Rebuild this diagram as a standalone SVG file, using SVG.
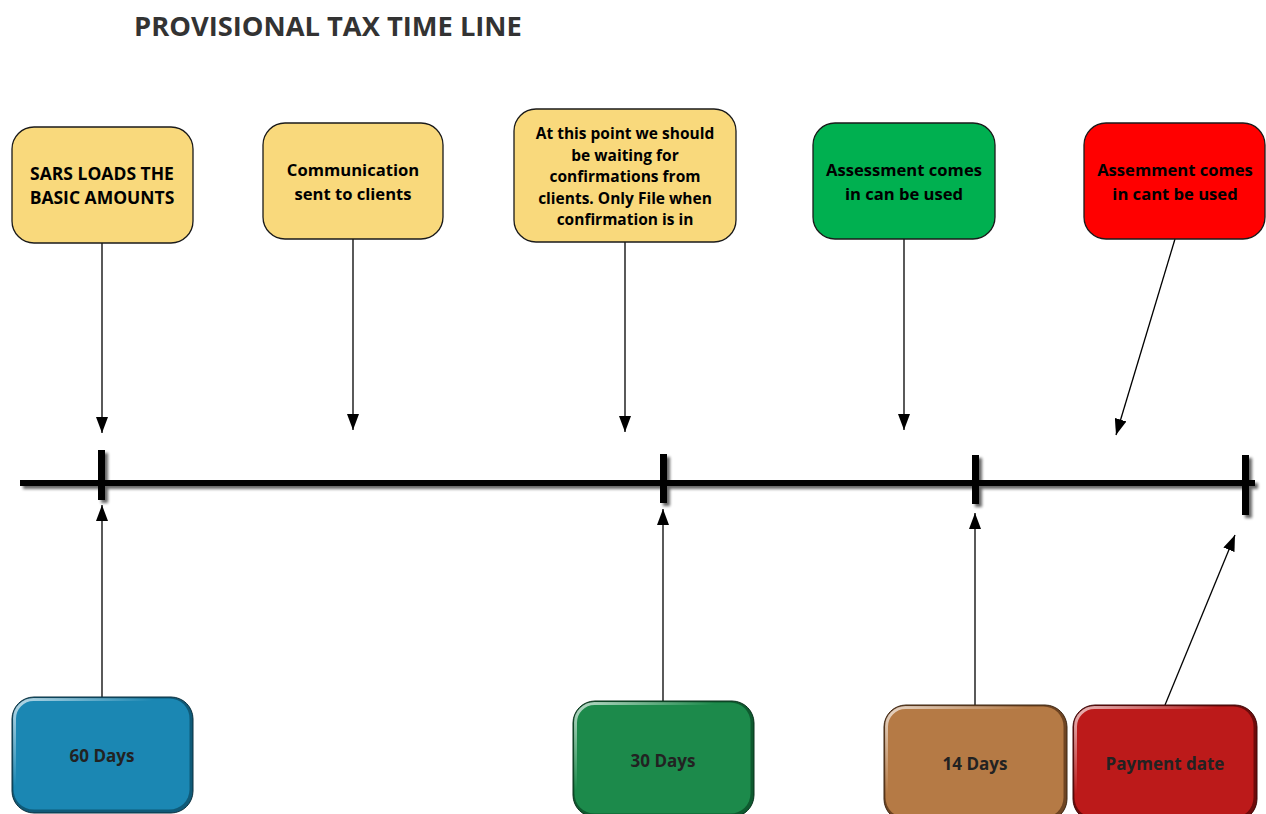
<svg xmlns="http://www.w3.org/2000/svg" width="1266" height="814" viewBox="0 0 1266 814">
<defs>
<style>
.t{font-family:"Open Sans","Liberation Sans",sans-serif;font-weight:bold;text-anchor:middle;fill:#000}
.title{font-family:"Open Sans","Liberation Sans",sans-serif;font-weight:bold;font-size:27.3px;fill:#333}
.box{stroke:#1a1a1a;stroke-width:1.3}
.conn{stroke:#000;stroke-width:1.3;fill:none;marker-end:url(#ah)}
.bt{font-family:"Open Sans","Liberation Sans",sans-serif;font-weight:bold;font-size:17px;text-anchor:middle;fill:#222}
.hl{fill:none;stroke:url(#hlg);stroke-width:3}
</style>
<marker id="ah" viewBox="0 0 16 12" refX="16" refY="6" markerWidth="16" markerHeight="12" markerUnits="userSpaceOnUse" orient="auto">
<path d="M0,0 L16,6 L0,12 z" fill="#000"/>
</marker>
<filter id="sh" x="-5%" y="-50%" width="110%" height="200%">
<feGaussianBlur in="SourceAlpha" stdDeviation="1.5"/>
<feOffset dx="3" dy="3" result="b"/>
<feComponentTransfer><feFuncA type="linear" slope="0.6"/></feComponentTransfer>
<feMerge><feMergeNode/><feMergeNode in="SourceGraphic"/></feMerge>
</filter>
<linearGradient id="hlg" x1="0" y1="0" x2="1" y2="1">
<stop offset="0" stop-color="#fff" stop-opacity="0.7"/>
<stop offset="0.4" stop-color="#fff" stop-opacity="0"/>
</linearGradient>
</defs>
<rect width="1266" height="814" fill="#fff"/>
<text class="title" x="134" y="36">PROVISIONAL TAX TIME LINE</text>

<g id="timeline" filter="url(#sh)" fill="#000">
<rect x="20" y="480" width="1235" height="6"/>
<rect x="98" y="450" width="7" height="50"/>
<rect x="660" y="454" width="7" height="49"/>
<rect x="972" y="455" width="7" height="49"/>
<rect x="1242" y="455" width="7" height="60"/>
</g>

<g id="connectors">
<line class="conn" x1="102" y1="243" x2="102" y2="433"/>
<line class="conn" x1="353" y1="239" x2="353" y2="430"/>
<line class="conn" x1="625" y1="242" x2="625" y2="432"/>
<line class="conn" x1="904" y1="239" x2="904" y2="430"/>
<line class="conn" x1="1175" y1="239" x2="1116" y2="435"/>
<line class="conn" x1="102" y1="697" x2="102" y2="505"/>
<line class="conn" x1="663" y1="701" x2="663" y2="509"/>
<line class="conn" x1="975" y1="705" x2="975" y2="513"/>
<line class="conn" x1="1165" y1="705" x2="1235" y2="535"/>
</g>

<g id="n1">
<rect class="box" x="12" y="127" width="181" height="116" rx="22" fill="#F9D97C"/>
<text class="t" font-size="17.5" x="102" y="180">SARS LOADS THE</text>
<text class="t" font-size="17.5" x="102" y="204">BASIC AMOUNTS</text>
</g>
<g id="n2">
<rect class="box" x="263" y="123" width="180" height="116" rx="22" fill="#F9D97C"/>
<text class="t" font-size="16.6" x="353" y="176">Communication</text>
<text class="t" font-size="16.6" x="353" y="200">sent to clients</text>
</g>
<g id="n3">
<rect class="box" x="514" y="109" width="222" height="133" rx="22" fill="#F9D97C"/>
<text class="t" font-size="15.5" x="625" y="139">At this point we should</text>
<text class="t" font-size="15.5" x="625" y="161">be waiting for</text>
<text class="t" font-size="15.5" x="625" y="182">confirmations from</text>
<text class="t" font-size="15.5" x="625" y="204">clients. Only File when</text>
<text class="t" font-size="15.5" x="625" y="225">confirmation is in</text>
</g>
<g id="n4">
<rect class="box" x="813" y="123" width="182" height="116" rx="22" fill="#00B050"/>
<text class="t" font-size="16.6" x="904" y="176">Assessment comes</text>
<text class="t" font-size="16.6" x="904" y="200">in can be used</text>
</g>
<g id="n5">
<rect class="box" x="1084" y="123" width="181" height="116" rx="22" fill="#FF0000"/>
<text class="t" font-size="16.6" x="1175" y="176">Assemment comes</text>
<text class="t" font-size="16.6" x="1175" y="200">in cant be used</text>
</g>

<g id="b1">
<rect x="12" y="697" width="181" height="116" rx="22" fill="#0f5a78" stroke="#0a2f3e" stroke-width="1"/>
<rect x="13.5" y="698.5" width="176" height="111" rx="20" fill="#1B87B3"/>
<rect class="hl" x="14.5" y="699.5" width="174" height="109" rx="19"/>
<text class="bt" x="102" y="762">60 Days</text>
</g>
<g id="b2">
<rect x="573" y="701" width="181" height="116" rx="22" fill="#0e5a2f" stroke="#08301a" stroke-width="1"/>
<rect x="574.5" y="702.5" width="176" height="111" rx="20" fill="#1C8A4B"/>
<rect class="hl" x="575.5" y="703.5" width="174" height="109" rx="19"/>
<text class="bt" x="663" y="767">30 Days</text>
</g>
<g id="b3">
<rect x="884" y="705" width="183" height="116" rx="22" fill="#6e4422" stroke="#3d2612" stroke-width="1"/>
<rect x="885.5" y="706.5" width="178" height="111" rx="20" fill="#B57A45"/>
<rect class="hl" x="886.5" y="707.5" width="176" height="109" rx="19"/>
<text class="bt" x="975" y="770">14 Days</text>
</g>
<g id="b4">
<rect x="1073" y="705" width="184" height="116" rx="22" fill="#6e0b0b" stroke="#3d0606" stroke-width="1"/>
<rect x="1074.5" y="706.5" width="179" height="111" rx="20" fill="#BC1A1A"/>
<rect class="hl" x="1075.5" y="707.5" width="177" height="109" rx="19"/>
<text class="bt" x="1165" y="770">Payment date</text>
</g>
</svg>
